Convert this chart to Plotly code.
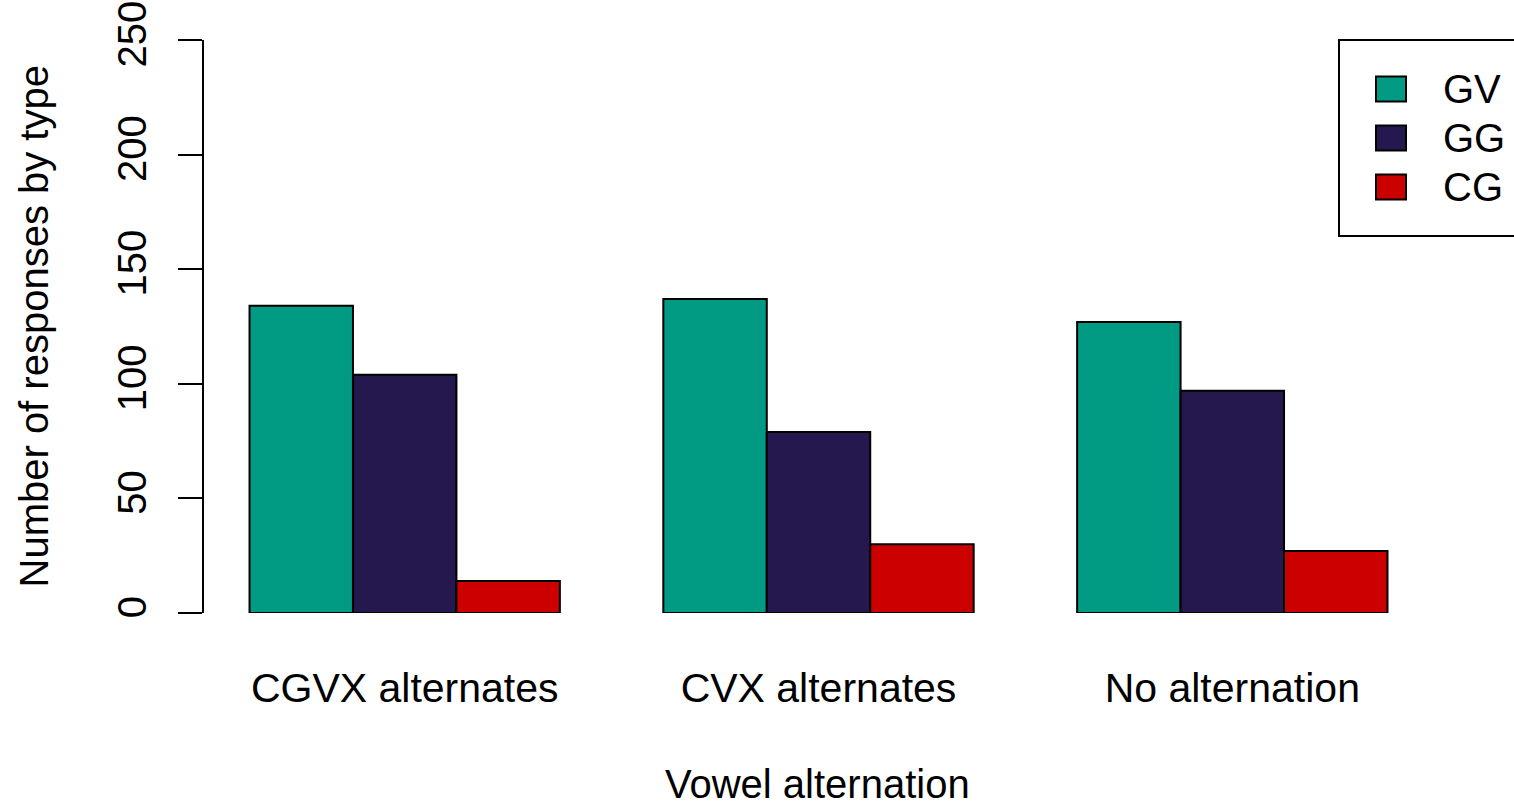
import plotly.graph_objects as go

# Response counts by vowel-alternation condition
categories = ["CGVX alternates", "CVX alternates", "No alternation"]
series_names = ["GV", "GG", "CG"]
gv_counts = [134, 137, 127]
gg_counts = [104, 79, 97]
cg_counts = [14, 30, 27]
series_colors = ["#009B82", "#24184F", "#CD0000"]
y_ticks = [0, 50, 100, 150, 200, 250]

W, H = 1514, 804
L, R, T, B = 204, 1433, 40, 613  # plot area in pixels


def px_x(p):
    return (p - L) / (R - L)


def px_y(p):
    return (B - p) / (B - T)


FONT = "Liberation Sans, Arial, Helvetica, sans-serif"

fig = go.Figure()
for name, vals, col in zip(series_names, [gv_counts, gg_counts, cg_counts], series_colors):
    fig.add_trace(go.Bar(
        x=categories, y=vals, name=name,
        marker=dict(color=col, line=dict(color="black", width=2)),
        cliponaxis=False, showlegend=False,
    ))

fig.update_layout(
    width=W, height=H,
    margin=dict(l=L, r=W - R, t=T, b=H - B, pad=0, autoexpand=False),
    paper_bgcolor="white", plot_bgcolor="white",
    barmode="group", bargap=0.25, bargroupgap=0,
    font=dict(family=FONT, size=40, color="black"),
    xaxis=dict(
        range=[-0.485, 2.485], showline=False, ticks="", showgrid=False,
        zeroline=False, tickfont=dict(size=41), ticklabelstandoff=47,
        automargin=False,
    ),
    yaxis=dict(
        range=[0, 250], tickvals=y_ticks, ticks="outside", ticklen=24,
        tickwidth=2, tickcolor="black", showline=True, linewidth=2,
        linecolor="black", showgrid=False, zeroline=False, tickangle=-90,
        tickfont=dict(size=40), ticklabelstandoff=16, automargin=False,
    ),
)

annotations = [
    dict(text="Vowel alternation", xref="paper", yref="paper",
         x=px_x(817), y=px_y(784), xanchor="center", yanchor="middle",
         showarrow=False, font=dict(size=40)),
    dict(text="Number of responses by type", xref="paper", yref="paper",
         x=px_x(33), y=0.5, xanchor="center", yanchor="middle",
         textangle=-90, showarrow=False, font=dict(size=40)),
]

shapes = [
    dict(type="rect", xref="paper", yref="paper",
         x0=px_x(1339), x1=px_x(1520), y0=px_y(236), y1=px_y(40),
         line=dict(color="black", width=2), fillcolor="white", layer="above"),
]

# Legend entries
row_centers = [89, 138, 187]
for name, col, cy in zip(series_names, series_colors, row_centers):
    shapes.append(dict(
        type="rect", xref="paper", yref="paper",
        x0=px_x(1376), x1=px_x(1406), y0=px_y(cy + 12.5), y1=px_y(cy - 12.5),
        line=dict(color="black", width=2), fillcolor=col, layer="above",
    ))
    annotations.append(dict(
        text=name, xref="paper", yref="paper", x=px_x(1441), y=px_y(cy),
        xanchor="left", yanchor="middle", showarrow=False, font=dict(size=40),
    ))

fig.update_layout(shapes=shapes, annotations=annotations)
fig.write_html("out.html")
